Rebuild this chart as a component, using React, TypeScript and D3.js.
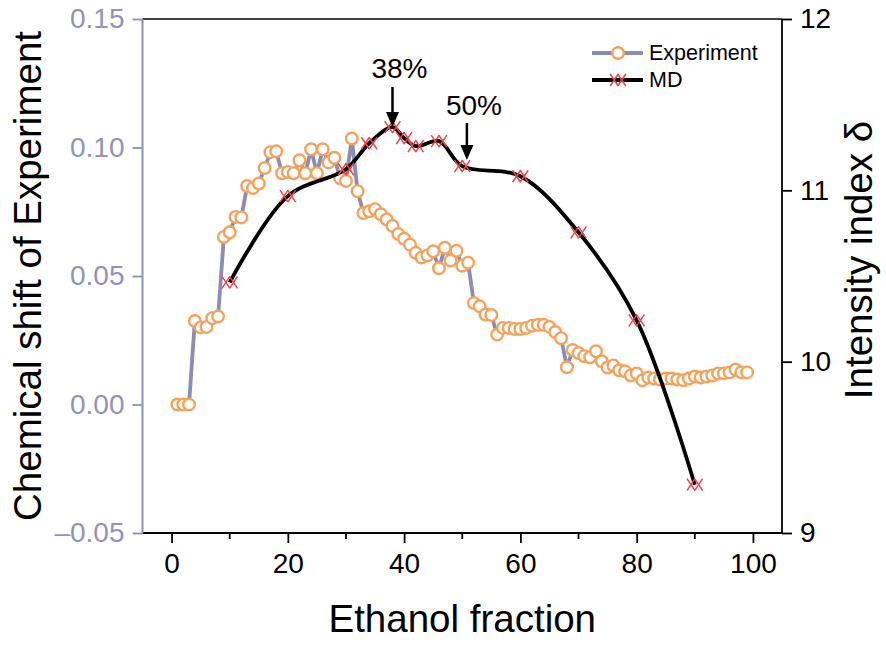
import { useEffect, useRef } from "react";
import * as d3 from "d3";

// Experiment: chemical shift vs ethanol fraction (left axis)
const expX = [
  1, 2, 3, 4, 5, 6, 7, 8, 9, 10, 11, 12, 13, 14, 15, 16, 17, 18, 19, 20,
  21, 22, 23, 24, 25, 26, 27, 28, 29, 30, 31, 32, 33, 34, 35, 36, 37, 38, 39, 40,
  41, 42, 43, 44, 45, 46, 47, 48, 49, 50, 51, 52, 53, 54, 55, 56, 57, 58, 59, 60,
  61, 62, 63, 64, 65, 66, 67, 68, 69, 70, 71, 72, 73, 74, 75, 76, 77, 78, 79, 80,
  81, 82, 83, 84, 85, 86, 87, 88, 89, 90, 91, 92, 93, 94, 95, 96, 97, 98, 99,
];
const expY = [
  0.0, 0.0, 0.0, 0.0325, 0.03, 0.0302, 0.0336, 0.0342, 0.0652, 0.067,
  0.073, 0.0728, 0.085, 0.0842, 0.086, 0.092, 0.0982, 0.0985, 0.09, 0.0905,
  0.09, 0.095, 0.09, 0.0993, 0.09, 0.0993, 0.0942, 0.096, 0.088, 0.087,
  0.1035, 0.083, 0.0745, 0.0752, 0.076, 0.074, 0.072, 0.0695, 0.0663, 0.0645,
  0.0622, 0.059, 0.0572, 0.058, 0.0596, 0.053, 0.061, 0.056, 0.0598, 0.054,
  0.0552, 0.0395, 0.0382, 0.035, 0.0348, 0.0272, 0.0298, 0.0298, 0.0294, 0.0294,
  0.0298, 0.0306, 0.031, 0.031, 0.0302, 0.0282, 0.0258, 0.0145, 0.0212, 0.02,
  0.0188, 0.0184, 0.0207, 0.0168, 0.0144, 0.0152, 0.0133, 0.0129, 0.0113, 0.0121,
  0.0094, 0.0105, 0.0101, 0.0097, 0.0101, 0.0101, 0.0097, 0.0094, 0.0101, 0.0109,
  0.0105, 0.0109, 0.0113, 0.0121, 0.0121, 0.0125, 0.0136, 0.0125, 0.0125,
];

// MD: intensity index (right axis)
const mdX = [10, 20, 30, 34, 38, 40, 42, 46, 50, 60, 70, 80, 90];
const mdY = [10.463, 10.966, 11.123, 11.275, 11.369, 11.305, 11.258, 11.287, 11.141, 11.082, 10.755, 10.241, 9.282];

const xTicks = [0, 20, 40, 60, 80, 100];
const xMinor = [10, 30, 50, 70, 90];
const leftTicks = [-0.05, 0.0, 0.05, 0.1, 0.15];
const rightTicks = [9, 10, 11, 12];

// annotations: arrow position on the x axis and its label
const annoLabels = ["38%", "50%"];
const annoX = [38, 50.8];

const W = 886;
const H = 645;
const FONT = "'Liberation Sans', Arial, sans-serif";
const AXIS_GREY = "#8e8eb6";
const LINE_GREY = "#8c8cb4";
const ORANGE = "#f5a35c";
const RED = "#ee4444";

export default function App() {
  const svgRef = useRef<SVGSVGElement | null>(null);

  useEffect(() => {
    if (!svgRef.current) return;
    const svg = d3.select(svgRef.current);
    svg.selectAll("*").remove();

    const margin = { top: 19, right: 104, bottom: 112, left: 142.5 };
    const x0 = margin.left;
    const x1 = W - margin.right;
    const y0 = H - margin.bottom;
    const y1 = margin.top;

    const x = d3.scaleLinear().domain([-5, 105]).range([x0, x1]);
    const yL = d3.scaleLinear().domain([-0.05, 0.15]).range([y0, y1]);
    const yR = d3.scaleLinear().domain([9, 12]).range([y0, y1]);

    const g = svg.append("g").attr("font-family", FONT);

    // frame top
    g.append("line").attr("x1", x0).attr("x2", x1).attr("y1", y1).attr("y2", y1)
      .attr("stroke", "#000").attr("stroke-width", 1.6);

    // bottom axis
    const xAxis = d3.axisBottom(x).tickValues(xTicks).tickSize(10).tickPadding(10)
      .tickFormat((d) => String(d));
    const gx = g.append("g").attr("transform", `translate(0,${y0})`).call(xAxis);
    gx.select(".domain").attr("d", `M${x0},0H${x1}`).attr("stroke-width", 1.8);
    gx.selectAll(".tick line").attr("stroke-width", 1.8);
    gx.selectAll("text").attr("font-size", 28).attr("font-family", FONT).attr("fill", "#000");
    gx.selectAll(".minor").data(xMinor).join("line").attr("class", "minor")
      .attr("x1", (d) => x(d)).attr("x2", (d) => x(d)).attr("y1", 0).attr("y2", 6)
      .attr("stroke", "#000").attr("stroke-width", 1.8);

    // left axis
    const lAxis = d3.axisLeft(yL).tickValues(leftTicks).tickSize(10).tickPadding(8)
      .tickFormat((d) => {
        const v = d as number;
        return (v < 0 ? "\u2013" : "") + d3.format(".2f")(Math.abs(v));
      });
    const gl = g.append("g").attr("transform", `translate(${x0},0)`).call(lAxis);
    gl.select(".domain").attr("d", `M0,${y0}V${y1}`).attr("stroke", AXIS_GREY).attr("stroke-width", 2);
    gl.selectAll(".tick line").attr("stroke", AXIS_GREY).attr("stroke-width", 1.8);
    gl.selectAll("text").attr("font-size", 28).attr("font-family", FONT).attr("fill", "#9292ba");

    // right axis
    const rAxis = d3.axisRight(yR).tickValues(rightTicks).tickSize(10).tickPadding(8)
      .tickFormat((d) => String(d));
    const gr = g.append("g").attr("transform", `translate(${x1},0)`).call(rAxis);
    gr.select(".domain").attr("d", `M0,${y0}V${y1}`).attr("stroke-width", 1.8);
    gr.selectAll(".tick line").attr("stroke-width", 1.8);
    gr.selectAll("text").attr("font-size", 28).attr("font-family", FONT).attr("fill", "#000");

    // axis titles
    g.append("text").attr("x", (x0 + x1) / 2).attr("y", 632).attr("text-anchor", "middle")
      .attr("font-size", 38.5).text("Ethanol fraction");
    g.append("text").attr("transform", `translate(41,${(y0 + y1) / 2}) rotate(-90)`)
      .attr("text-anchor", "middle").attr("font-size", 38.5).text("Chemical shift of Experiment");
    g.append("text").attr("transform", `translate(872,260) rotate(-90)`)
      .attr("text-anchor", "middle").attr("font-size", 38.5).text("Intensity index \u03b4");

    // experiment series
    const expPts = expX.map((d, i) => [d, expY[i]] as [number, number]);
    const expLine = d3.line<[number, number]>().x((d) => x(d[0])).y((d) => yL(d[1]));
    g.append("path").attr("d", expLine(expPts)).attr("fill", "none")
      .attr("stroke", LINE_GREY).attr("stroke-width", 3.8).attr("stroke-linejoin", "round");
    g.selectAll("circle.exp").data(expPts).join("circle").attr("class", "exp")
      .attr("cx", (d) => x(d[0])).attr("cy", (d) => yL(d[1])).attr("r", 5.8)
      .attr("fill", "#fff").attr("stroke", ORANGE).attr("stroke-width", 2.4);

    // MD series
    const mdPts = mdX.map((d, i) => [d, mdY[i]] as [number, number]);
    const mdLine = d3.line<[number, number]>().x((d) => x(d[0])).y((d) => yR(d[1]))
      .curve(d3.curveCatmullRom.alpha(0.5));
    g.append("path").attr("d", mdLine(mdPts)).attr("fill", "none")
      .attr("stroke", "#000").attr("stroke-width", 3.8);

    // double-cross marker
    const crossPath = (cx: number, cy: number) => {
      const hw = 4, hh = 6, off = 3.8;
      let p = "";
      for (const o of [-off, off]) {
        const c = cx + o;
        p += `M${c - hw},${cy - hh}L${c + hw},${cy + hh}M${c - hw},${cy + hh}L${c + hw},${cy - hh}`;
      }
      return p;
    };
    g.selectAll("path.md").data(mdPts).join("path").attr("class", "md")
      .attr("d", (d) => crossPath(x(d[0]), yR(d[1])))
      .attr("fill", "none").attr("stroke", RED).attr("stroke-width", 1.5);

    // annotations
    const arrowTop = [87, 123];
    const arrowTip = [127, 160];
    const labelDx = [7, 7];
    const labelY = [78, 115];
    annoLabels.forEach((lab, i) => {
      const ax = x(annoX[i]);
      g.append("line").attr("x1", ax).attr("x2", ax).attr("y1", arrowTop[i]).attr("y2", arrowTip[i] - 12)
        .attr("stroke", "#000").attr("stroke-width", 2.5);
      g.append("path")
        .attr("d", `M${ax - 6.5},${arrowTip[i] - 15}L${ax + 6.5},${arrowTip[i] - 15}L${ax},${arrowTip[i]}Z`)
        .attr("fill", "#000");
      g.append("text").attr("x", ax + labelDx[i]).attr("y", labelY[i]).attr("text-anchor", "middle")
        .attr("font-size", 28).text(lab);
    });

    // legend
    const lg = g.append("g");
    const lx0 = 592, lx1 = 643, lcx = 618;
    lg.append("line").attr("x1", lx0).attr("x2", lx1).attr("y1", 53).attr("y2", 53)
      .attr("stroke", LINE_GREY).attr("stroke-width", 3.8);
    lg.append("circle").attr("cx", lcx).attr("cy", 53).attr("r", 5.8)
      .attr("fill", "#fff").attr("stroke", ORANGE).attr("stroke-width", 2.4);
    lg.append("text").attr("x", 649).attr("y", 60).attr("font-size", 21.5).text("Experiment");
    lg.append("line").attr("x1", lx0).attr("x2", lx1).attr("y1", 80).attr("y2", 80)
      .attr("stroke", "#000").attr("stroke-width", 3.8);
    lg.append("path").attr("d", crossPath(lcx, 80)).attr("fill", "none")
      .attr("stroke", RED).attr("stroke-width", 1.5);
    lg.append("text").attr("x", 649).attr("y", 87).attr("font-size", 21.5).text("MD");
  }, []);

  return (
    <svg
      ref={svgRef}
      width={W}
      height={H}
      style={{ position: "absolute", left: 0, top: 0, background: "#fff" }}
    />
  );
}
